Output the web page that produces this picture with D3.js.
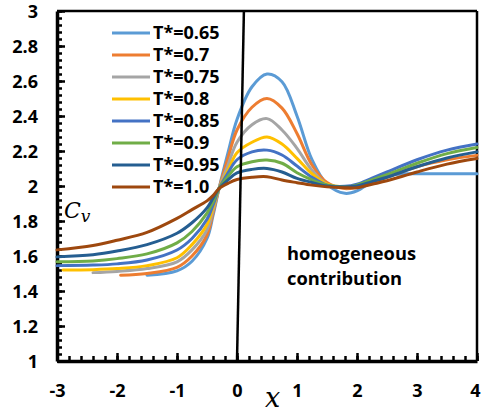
<!DOCTYPE html>
<html><head><meta charset="utf-8">
<script src="https://cdn.jsdelivr.net/npm/d3@7"></script>
<style>
html,body{margin:0;padding:0;background:#fff;}
svg text{font-family:"Open Sans",Lato,"Liberation Sans",sans-serif;font-weight:bold;fill:#000;}
</style></head>
<body><svg id="c" width="481" height="413"></svg>
<script>
const xs = [-3,-2.9,-2.4,-2,-1.94,-1.5,-1,-0.75,-0.5,-0.4,-0.3,-0.15,0,0.25,0.5,0.75,1,1.25,1.5,1.8,2,2.25,2.5,2.8,3,3.5,4];
const seriesNames = ["T*=0.65","T*=0.7","T*=0.75","T*=0.8","T*=0.85","T*=0.9","T*=0.95","T*=1.0"];
const seriesColors = ["#5B9BD5","#ED7D31","#A5A5A5","#FFC000","#4472C4","#70AD47","#255E91","#9E480E"];
const t065 = [null,null,null,null,null,1.49,1.515,1.57,1.70,1.83,1.985,2.19,2.38,2.567,2.64,2.596,2.40,2.15,2.01,1.958,1.972,2.025,2.058,2.07,2.07,2.07,2.07];
const t070 = [null,null,null,null,1.49,1.50,1.535,1.60,1.72,1.845,1.985,2.16,2.32,2.45,2.50,2.445,2.30,2.12,2.02,1.985,1.995,2.02,2.05,null,2.11,2.15,2.175];
const t075 = [null,null,1.505,1.512,null,1.528,1.567,1.635,1.75,1.86,1.985,2.12,2.25,2.35,2.385,2.32,2.215,2.09,2.01,1.99,1.995,null,null,null,null,null,null];
const t080 = [null,1.52,1.522,1.528,null,1.545,1.59,1.665,1.78,1.875,1.985,2.09,2.19,2.25,2.28,2.24,2.158,2.07,2.01,1.995,2.0,null,null,null,null,null,null];
const t085 = [1.545,null,1.548,1.555,null,1.577,1.634,1.70,1.81,1.89,1.985,2.075,2.15,2.195,2.205,2.177,2.114,2.05,2.005,1.998,2.01,2.045,2.08,null,2.15,2.205,2.24];
const t090 = [1.567,null,1.572,1.585,null,1.612,1.675,1.74,1.845,1.91,1.985,2.055,2.11,2.139,2.148,2.13,2.076,2.035,2.005,1.995,2.005,2.035,2.065,null,2.13,2.185,2.22];
const t095 = [1.595,null,1.607,1.628,null,1.665,1.73,1.79,1.875,1.93,1.985,2.035,2.075,2.095,2.10,2.08,2.044,2.02,2.0,1.995,2.0,2.025,2.05,null,2.11,2.16,2.195];
const t100 = [1.635,null,1.66,1.69,null,1.735,1.815,1.865,1.915,1.945,1.985,2.015,2.037,2.05,2.053,2.034,2.019,2.005,1.995,1.99,1.99,2.01,2.03,null,2.08,2.125,2.157];
const seriesValues = [t065,t070,t075,t080,t085,t090,t095,t100];
const yTicks = [1,1.2,1.4,1.6,1.8,2,2.2,2.4,2.6,2.8,3];
const yTickLabels = ["1","1.2","1.4","1.6","1.8","2","2.2","2.4","2.6","2.8","3"];
const xTicks = [-3,-2,-1,0,1,2,3,4];
const xTickLabels = ["-3","-2","-1","0","1","2","3","4"];
const boundaryLine = [[0,1],[0.115,3]];

const svg = d3.select("#c");
const x = d3.scaleLinear().domain([-3,4]).range([57,477]);
const y = d3.scaleLinear().domain([1,3]).range([361,11]);

// frame top/right
svg.append("line").attr("x1",x(-3)).attr("x2",x(4)).attr("y1",y(3)).attr("y2",y(3)).attr("stroke","#000").attr("stroke-width",2.5);
svg.append("line").attr("x1",x(4)).attr("x2",x(4)).attr("y1",y(3)).attr("y2",y(1)).attr("stroke","#000").attr("stroke-width",2.5);

// minor ticks
const yMinor = d3.range(0,51).map(i=>1+i*0.04);
const xMinor = d3.range(0,36).map(i=>-3+i*0.2);
svg.append("g").attr("transform",`translate(${x(-3)},0)`)
  .call(d3.axisLeft(y).tickValues(yMinor).tickSize(-5).tickFormat(""))
  .call(g=>g.select(".domain").remove())
  .selectAll("line").attr("stroke-width",2.5);
svg.append("g").attr("transform",`translate(0,${y(1)})`)
  .call(d3.axisBottom(x).tickValues(xMinor).tickSize(-5).tickFormat(""))
  .call(g=>g.select(".domain").remove())
  .selectAll("line").attr("stroke-width",2.5);

// major axes
const ya = svg.append("g").attr("transform",`translate(${x(-3)},0)`)
  .call(d3.axisLeft(y).tickValues(yTicks).tickSize(-8).tickPadding(19).tickSizeOuter(0).tickFormat((d,i)=>yTickLabels[i]));
ya.select(".domain").attr("stroke-width",3.5);
ya.selectAll(".tick line").attr("stroke-width",2.5);
ya.selectAll("text").style("font-size","18px").attr("dy","0.36em");

const xa = svg.append("g").attr("transform",`translate(0,${y(1)})`)
  .call(d3.axisBottom(x).tickValues(xTicks).tickSize(-8).tickPadding(23).tickSizeOuter(0).tickFormat((d,i)=>xTickLabels[i]));
xa.select(".domain").attr("stroke-width",3.5);
xa.selectAll(".tick line").attr("stroke-width",2.5);
xa.selectAll("text").style("font-size","18px");
xa.selectAll(".tick").filter(d=>d===4).select("text").attr("text-anchor","end").attr("x",3);

// series
const line = d3.line().defined(d=>d[1]!=null).x(d=>x(d[0])).y(d=>y(d[1])).curve(d3.curveCatmullRom.alpha(0.5));
seriesValues.forEach((vals,i)=>{
  const pts = xs.map((xv,j)=>[xv,vals[j]]).filter(d=>d[1]!=null);
  svg.append("path").datum(pts).attr("d",line).attr("fill","none")
    .attr("stroke",seriesColors[i]).attr("stroke-width",3).attr("stroke-linejoin","round").attr("stroke-linecap","round");
});

// boundary line
svg.append("line").attr("x1",x(boundaryLine[0][0])).attr("y1",y(boundaryLine[0][1]))
  .attr("x2",x(boundaryLine[1][0])).attr("y2",y(boundaryLine[1][1])).attr("stroke","#000").attr("stroke-width",2.5);

// legend
const lg = svg.append("g");
seriesNames.forEach((n,i)=>{
  const yy = 33 + i*22;
  lg.append("line").attr("x1",112).attr("x2",150).attr("y1",yy).attr("y2",yy).attr("stroke",seriesColors[i]).attr("stroke-width",3);
  lg.append("text").attr("x",153).attr("y",yy).attr("dy","0.36em").style("font-size","18px").text(n);
});

// annotations
svg.append("text").attr("x",287).attr("y",260).style("font-size","18px")
  .attr("textLength",129).attr("lengthAdjust","spacingAndGlyphs").text("homogeneous");
svg.append("text").attr("x",287).attr("y",285).style("font-size","18px")
  .attr("textLength",115).attr("lengthAdjust","spacingAndGlyphs").text("contribution");

const cv = svg.append("text").attr("x",64).attr("y",218)
  .style("font-family","'DejaVu Serif',serif").style("font-style","italic").style("font-weight","normal").style("font-size","22px");
cv.append("tspan").text("C");
cv.append("tspan").attr("dy",4).style("font-size","17px").text("v");

svg.append("text").attr("x",265).attr("y",407)
  .style("font-family","'DejaVu Serif',serif").style("font-style","italic").style("font-weight","normal").style("font-size","27px").text("x");
</script></body></html>
